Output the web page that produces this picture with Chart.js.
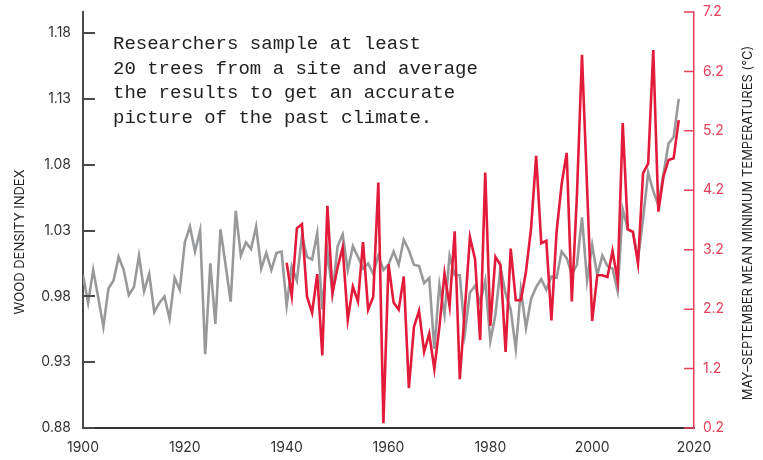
<!DOCTYPE html>
<html>
<head>
<meta charset="utf-8">
<script src="https://cdn.jsdelivr.net/npm/chart.js@4.4.0/dist/chart.umd.min.js"></script>
<style>
  html, body { margin: 0; padding: 0; background: #fff; }
  #wrap { position: relative; width: 763px; height: 460px; }
  #note {
    position: absolute; left: 113px; top: 32px;
    font-family: "Liberation Mono", "DejaVu Sans Mono", monospace;
    font-size: 19px; line-height: 24.5px; color: #222; white-space: pre;
  }
</style>
</head>
<body>
<div id="wrap">
  <canvas id="chart" width="763" height="460"></canvas>
  <div id="note">Researchers sample at least
20 trees from a site and average
the results to get an accurate
picture of the past climate.</div>
</div>
<script>
const startYear = 1900;
const tempStartYear = 1940;

// wood density index, 1900-2017
const density = [
  0.996, 0.975, 1.000, 0.979, 0.957, 0.986, 0.992, 1.010, 1.000, 0.981,
  0.987, 1.011, 0.984, 0.997, 0.968, 0.975, 0.980, 0.963, 0.994, 0.985,
  1.021, 1.033, 1.014, 1.030, 0.936, 1.005, 0.959, 1.031, 1.004, 0.976,
  1.045, 1.011, 1.021, 1.016, 1.033, 1.001, 1.013, 1.000, 1.013, 1.014,
  0.973, 1.003, 0.992, 1.026, 1.010, 1.008, 1.028, 0.970, 1.014, 0.982,
  1.018, 1.027, 1.000, 1.018, 1.010, 1.001, 1.005, 0.997, 1.011, 1.000,
  1.004, 1.014, 1.004, 1.023, 1.015, 1.004, 1.003, 0.990, 0.994, 0.940,
  0.989, 0.966, 1.011, 0.996, 0.996, 0.952, 0.983, 0.988, 0.975, 0.992,
  0.946, 0.966, 1.002, 0.982, 0.970, 0.940, 0.985, 0.956, 0.978, 0.987,
  0.993, 0.985, 0.995, 0.994, 1.014, 1.009, 0.997, 1.004, 1.040, 0.992,
  1.019, 0.996, 1.011, 1.003, 1.001, 0.984, 1.046, 1.031, 1.029, 1.008,
  1.039, 1.074, 1.060, 1.049, 1.073, 1.096, 1.101, 1.130
];

// May-September mean minimum temperature (°C), 1940-2017
const temps = [
  2.98, 2.42, 3.56, 3.63, 2.41, 2.14, 2.79, 1.42, 3.94, 2.47,
  2.90, 3.24, 2.02, 2.58, 2.33, 3.33, 2.19, 2.41, 4.33, 0.28,
  2.96, 2.31, 2.19, 2.75, 0.87, 1.90, 2.17, 1.48, 1.79, 1.19,
  1.90, 2.80, 2.25, 3.51, 1.02, 2.20, 3.41, 3.04, 1.68, 4.50,
  1.92, 3.08, 2.94, 1.48, 3.22, 2.35, 2.35, 2.83, 3.56, 4.78,
  3.31, 3.35, 2.01, 3.49, 4.30, 4.83, 2.33, 4.10, 6.48, 4.25,
  2.00, 2.77, 2.77, 2.74, 3.18, 2.68, 5.33, 3.54, 3.50, 2.97,
  4.49, 4.65, 6.56, 3.84, 4.43, 4.71, 4.74, 5.38
];

const yearTicks = [1900, 1920, 1940, 1960, 1980, 2000, 2020];
const densityTicks = [0.88, 0.93, 0.98, 1.03, 1.08, 1.13, 1.18];
const tempTicks = [0.2, 1.2, 2.2, 3.2, 4.2, 5.2, 6.2, 7.2];

const GRAY = "#98999b";
const RED = "#e31b3a";
const AXIS_RED = "#e8405a";
const DARK = "#333";
const FONT = "Inter, Roboto, sans-serif";

const densityPoints = density.map((v, i) => ({ x: startYear + i, y: v }));
const tempPoints = temps.map((v, i) => ({ x: tempStartYear + i, y: v }));

function drawTitle(ctx, text, x, y) {
  ctx.save();
  ctx.fillStyle = "#222";
  ctx.font = "13px " + FONT;
  ctx.textAlign = "center";
  ctx.textBaseline = "middle";
  ctx.translate(x, y);
  ctx.rotate(-Math.PI / 2);
  ctx.fillText(text, 0, 0);
  ctx.restore();
}

// inner tick marks on both y axes, plus the rotated axis titles
const axisDecor = {
  id: "axisDecor",
  afterDraw(chart) {
    const ctx = chart.ctx;
    const y = chart.scales.y;
    const y1 = chart.scales.y1;
    const area = chart.chartArea;

    ctx.save();
    ctx.lineWidth = 2;
    ctx.strokeStyle = "#4a4a4a";
    ctx.beginPath();
    densityTicks.forEach((t) => {
      const py = Math.round(y.getPixelForValue(t));
      ctx.moveTo(area.left, py);
      ctx.lineTo(area.left + 12, py);
    });
    ctx.stroke();
    ctx.restore();

    ctx.save();
    ctx.lineWidth = 1.5;
    ctx.strokeStyle = AXIS_RED;
    ctx.beginPath();
    tempTicks.forEach((t) => {
      const py = y1.getPixelForValue(t);
      ctx.moveTo(area.right - 10, py);
      ctx.lineTo(area.right, py);
    });
    ctx.stroke();
    ctx.restore();

    drawTitle(ctx, "WOOD DENSITY INDEX", 20, 242);
    drawTitle(ctx, "MAY\u2013SEPTEMBER MEAN MINIMUM TEMPERATURES (\u00B0C)", 748, 223);
  },
};

new Chart(document.getElementById("chart"), {
  type: "line",
  data: {
    datasets: [
      {
        label: "Temperature",
        data: tempPoints,
        yAxisID: "y1",
        borderColor: RED,
        borderWidth: 2.6,
        pointRadius: 0,
        tension: 0,
        order: 0,
      },
      {
        label: "Wood density",
        data: densityPoints,
        yAxisID: "y",
        borderColor: GRAY,
        borderWidth: 2.6,
        pointRadius: 0,
        tension: 0,
        order: 1,
      },
    ],
  },
  options: {
    responsive: false,
    animation: false,
    layout: { padding: { top: 12, left: 0, right: 0, bottom: 0 } },
    plugins: {
      legend: { display: false },
      tooltip: { enabled: false },
    },
    scales: {
      x: {
        type: "linear",
        min: 1900,
        max: 2020,
        afterBuildTicks: (s) => { s.ticks = yearTicks.map((v) => ({ value: v })); },
        afterFit: (s) => { s.height = 32; },
        grid: { display: false, drawTicks: false },
        border: { display: true, color: DARK, width: 2 },
        ticks: {
          callback: (v) => String(v),
          color: DARK,
          font: { family: FONT, size: 14 },
          padding: 11,
          maxRotation: 0,
        },
      },
      y: {
        position: "left",
        min: 0.88,
        max: 1.196,
        afterBuildTicks: (s) => { s.ticks = densityTicks.map((v) => ({ value: v })); },
        afterFit: (s) => { s.width = 83; s.paddingTop = 0; s.paddingBottom = 0; },
        grid: { display: false, drawTicks: false },
        border: { display: true, color: "#4a4a4a", width: 2 },
        ticks: {
          callback: (v) => v.toFixed(2),
          color: DARK,
          font: { family: FONT, size: 14 },
          padding: 12,
        },
      },
      y1: {
        position: "right",
        min: 0.2,
        max: 7.2,
        afterBuildTicks: (s) => { s.ticks = tempTicks.map((v) => ({ value: v })); },
        afterFit: (s) => { s.width = 69; s.paddingTop = 0; s.paddingBottom = 0; },
        grid: { display: false, drawTicks: false },
        border: { display: true, color: AXIS_RED, width: 1.5 },
        ticks: {
          callback: (v) => v.toFixed(1),
          color: AXIS_RED,
          font: { family: FONT, size: 14 },
          padding: 9,
        },
      },
    },
  },
  plugins: [axisDecor],
});
</script>
</body>
</html>
